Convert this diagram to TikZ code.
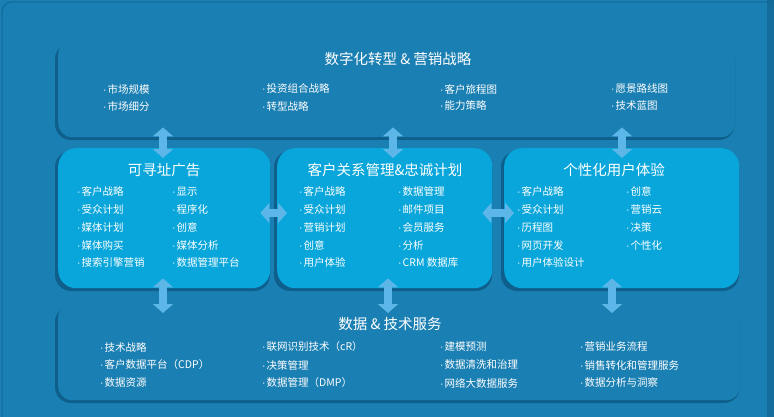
\documentclass[tikz,border=0pt]{standalone}
\usepackage{fontspec}
\setmainfont{Noto Sans CJK SC}
\newfontfamily\lat{Liberation Sans}
\usetikzlibrary{arrows.meta}
\definecolor{bg}{HTML}{1A7FB2}
\definecolor{dk}{HTML}{0E5F8C}
\definecolor{mid}{HTML}{08A6DA}
\definecolor{arr}{HTML}{5CB6E8}
\newcommand{\dt}{{\lat\textperiodcentered}\kern1pt}
\tikzset{
 outerbox/.style={draw=none,fill=bg,rounded corners=14pt},
 innerbox/.style={draw=none,fill=mid,rounded corners=18pt},
 shadowbox/.style={fill=dk,rounded corners=16pt},
 ttl/.style={text=white,font=\fontsize{14.5}{16}\selectfont},
 itm/.style={text=white,anchor=west,font=\fontsize{10.5}{12}\selectfont,inner sep=0pt},
 dbl/.style={arr,line width=8pt,{Triangle[width=20pt,length=9pt]}-{Triangle[width=20pt,length=9pt]},shorten <=-10pt,shorten >=-10pt}
}
\begin{document}
\begin{tikzpicture}[x=1pt,y=-1pt]
\useasboundingbox (0,0) rectangle (774,417);
\fill[bg] (0,0) rectangle (774,417);
\fill[dk!60!bg] (767,0) rectangle (774,417);
\draw[dk!70!bg,line width=1pt,rounded corners=10pt] (2,417) -- (2,2) -- (774,2);
% shadows
\fill[shadowbox] (55,43) rectangle (735,140);
\fill[shadowbox] (55,151) rectangle (270,291);
\fill[shadowbox] (274,151) rectangle (492,291);
\fill[shadowbox] (501,151) rectangle (739,291);
\fill[shadowbox] (55,306) rectangle (740,403);
% boxes
\node[outerbox,minimum width=677pt,minimum height=97pt,anchor=north west] (top) at (58,40) {};
\node[innerbox,minimum width=212pt,minimum height=140pt,anchor=north west] (b1) at (58,148) {};
\node[innerbox,minimum width=215pt,minimum height=140pt,anchor=north west] (b2) at (277,148) {};
\node[innerbox,minimum width=235pt,minimum height=140pt,anchor=north west] (b3) at (504,148) {};
\node[outerbox,minimum width=682pt,minimum height=97pt,anchor=north west] (bot) at (58,303) {};
% arrows
\draw[dbl] (163,0 |- top.south) -- (163,0 |- b1.north);
\draw[dbl] (393,0 |- top.south) -- (393,0 |- b2.north);
\draw[dbl] (622,0 |- top.south) -- (622,0 |- b3.north);
\draw[dbl] (163,0 |- b1.south) -- (163,0 |- bot.north);
\draw[dbl] (388,0 |- b2.south) -- (388,0 |- bot.north);
\draw[dbl] (612,0 |- b3.south) -- (612,0 |- bot.north);
\draw[dbl] (b1.east |- 0,213) -- (b2.west |- 0,213);
\draw[dbl] (b2.east |- 0,213) -- (b3.west |- 0,213);
% titles
\node[ttl] (t0) at (398,59) {数字化转型 \& 营销战略};
\node[ttl] (t1) at (164,170) {可寻址广告};
\node[ttl] (t2) at (385,170) {客户关系管理\&忠诚计划};
\node[ttl] (t3) at (614,170) {个性化用户体验};
\node[ttl] (t4) at (390,324) {数据 \& 技术服务};
% top items
\node[itm] (a1) at (103,89) {\dt 市场规模};
\node[itm] (a2) at (103,106) {\dt 市场细分};
\node[itm] (a3) at (262,89) {\dt 投资组合战略};
\node[itm] (a4) at (262,106) {\dt 转型战略};
\node[itm] (a5) at (440,89) {\dt 客户旅程图};
\node[itm] (a6) at (440,106) {\dt 能力策略};
\node[itm] (a7) at (611,89) {\dt 愿景路线图};
\node[itm] (a8) at (611,106) {\dt 技术蓝图};
% box1
\foreach \t [count=\i] in {客户战略,受众计划,媒体计划,媒体购买,搜索引擎营销}
  \node[itm] (c1\i) at (77,174+17.8*\i) {\dt\t};
\foreach \t [count=\i] in {显示,程序化,创意,媒体分析,数据管理平台}
  \node[itm] (d1\i) at (172,174+17.8*\i) {\dt\t};
% box2
\foreach \t [count=\i] in {客户战略,受众计划,营销计划,创意,用户体验}
  \node[itm] (c2\i) at (299,174+17.8*\i) {\dt\t};
\foreach \t [count=\i] in {数据管理,邮件项目,会员服务,分析,CRM 数据库}
  \node[itm] (d2\i) at (398,174+17.8*\i) {\dt\t};
% box3
\foreach \t [count=\i] in {客户战略,受众计划,历程图,网页开发,用户体验设计}
  \node[itm] (c3\i) at (517,174+17.8*\i) {\dt\t};
\foreach \t [count=\i] in {创意,营销云,决策,个性化}
  \node[itm] (d3\i) at (626,174+17.8*\i) {\dt\t};
% bottom
\foreach \t [count=\i] in {技术战略,客户数据平台（CDP）,数据资源}
  \node[itm] (e1\i) at (100,329+18*\i) {\dt\t};
\foreach \t [count=\i] in {联网识别技术（cR）,决策管理,数据管理（DMP）}
  \node[itm] (e2\i) at (262,329+18*\i) {\dt\t};
\foreach \t [count=\i] in {建模预测,数据清洗和治理,网络大数据服务}
  \node[itm] (e3\i) at (440,329+18*\i) {\dt\t};
\foreach \t [count=\i] in {营销业务流程,销售转化和管理服务,数据分析与洞察}
  \node[itm] (e4\i) at (580,329+18*\i) {\dt\t};
\end{tikzpicture}
\end{document}
